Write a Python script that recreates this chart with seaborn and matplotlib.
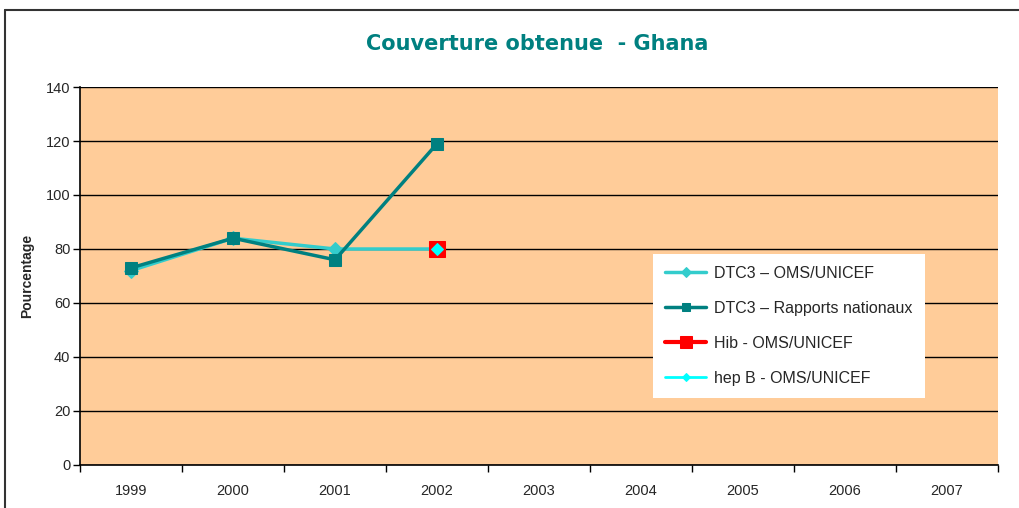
import numpy as np
import pandas as pd
import seaborn as sns
import matplotlib.pyplot as plt
from matplotlib.lines import Line2D

# valeurs
annees = [1999, 2000, 2001, 2002, 2003, 2004, 2005, 2006, 2007]
dtc3_oms = [72, 84, 80, 80]
dtc3_rapports = [73, 84, 76, 119]
hib_oms = [80]
hepb_oms = [80]

sns.set_style("white")
plt.rcParams['font.family'] = ['Liberation Sans', 'DejaVu Sans']

fig = plt.figure(figsize=(10.2, 5.08), dpi=100)
ax = fig.add_axes([80/1020, 43/508, 918/1020, 378/508])
ax.set_facecolor("#FFCC99")

sns.lineplot(x=annees[:4], y=dtc3_oms, ax=ax, color="#33CCCC", lw=2.5,
             marker="D", markersize=7, markeredgecolor="#33CCCC",
             label="DTC3 – OMS/UNICEF", zorder=3)
sns.lineplot(x=annees[:4], y=dtc3_rapports, ax=ax, color="#008080", lw=2.5,
             marker="s", markersize=9, markeredgecolor="#008080",
             label="DTC3 – Rapports nationaux", zorder=4)
sns.lineplot(x=[2002], y=hib_oms, ax=ax, color="#FF0000", lw=3,
             marker="s", markersize=12, markeredgecolor="#FF0000",
             label="Hib - OMS/UNICEF", zorder=5)
sns.lineplot(x=[2002], y=hepb_oms, ax=ax, color="#00FFFF", lw=2,
             marker="D", markersize=6, markeredgecolor="#00FFFF",
             label="hep B - OMS/UNICEF", zorder=6)

ax.set_xlim(1998.5, 2007.5)
ax.set_ylim(0, 140)
ax.set_yticks(range(0, 141, 20))
ax.yaxis.grid(True, color="black", lw=1)
ax.set_axisbelow(True)

ax.set_xticks(np.arange(1998.5, 2008, 1))
ax.set_xticklabels([])
ax.set_xticks(annees, minor=True)
ax.set_xticklabels([str(a) for a in annees], minor=True)
ax.tick_params(axis="x", which="major", direction="out", length=5, width=1, color="black", bottom=True)
ax.tick_params(axis="x", which="minor", length=0, pad=14, labelsize=10.5)
ax.tick_params(axis="y", direction="out", length=5, width=1, color="black", left=True, labelsize=10.5, pad=2)

for s in ["top", "right"]:
    ax.spines[s].set_visible(False)
for s in ["left", "bottom"]:
    ax.spines[s].set_color("black")
    ax.spines[s].set_linewidth(1.2)

ax.set_xlabel("")
ax.set_ylabel("Pourcentage", fontsize=10, fontweight="bold", labelpad=8)

fig.text(537/1020, 1 - 44/508, "Couverture obtenue  - Ghana", ha="center", va="center",
         fontsize=15, fontweight="bold", color="#008080", family=["DejaVu Sans"])

leg = ax.legend(loc="upper left", bbox_to_anchor=(0.624, 0.558), frameon=True,
                fancybox=False, facecolor="white", edgecolor="white", framealpha=1,
                fontsize=11.5, labelspacing=1.25, handlelength=2.6, handletextpad=0.5,
                markerscale=0.7, borderpad=0.75, borderaxespad=0)
leg.get_frame().set_linewidth(0)

# cadre de la figure
fig.add_artist(Line2D([5/1020, 5/1020], [0, 1 - 10/508], color="#333333", lw=1.5))
fig.add_artist(Line2D([5/1020, 1], [1 - 10/508, 1 - 10/508], color="#333333", lw=1.5))

fig.savefig("out.png", dpi=100)
